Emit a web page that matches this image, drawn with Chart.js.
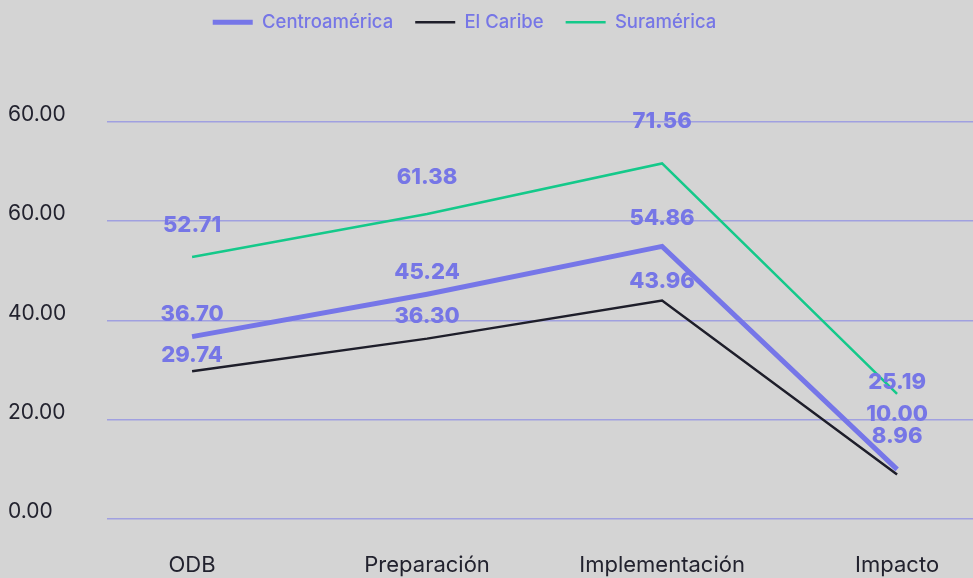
<!DOCTYPE html>
<html>
<head>
<meta charset="utf-8">
<script src="https://cdn.jsdelivr.net/npm/chart.js@4"></script>
<style>
  html, body { margin: 0; padding: 0; background: #d4d4d4; }
  #wrap { width: 973px; height: 578px; }
</style>
</head>
<body>
<div id="wrap"><canvas id="chart"></canvas></div>
<script>
// categorias y series
const categories = ['ODB', 'Preparación', 'Implementación', 'Impacto'];
const centroamerica = [36.70, 45.24, 54.86, 10.00];
const elCaribe = [29.74, 36.30, 43.96, 8.96];
const suramerica = [52.71, 61.38, 71.56, 25.19];
const yTickValues = [0, 20, 40, 60, 80];
const yTickLabels = ['0.00', '20.00', '40.00', '60.00', '60.00'];

const PURPLE = '#7676e6';
const DARK = '#22222e';

function toPoints(values) {
  return values.map((v, i) => ({ x: i, y: v }));
}

// etiquetas de valores encima de cada punto
const valueLabels = {
  id: 'valueLabels',
  afterDatasetsDraw(chart, args, opts) {
    const ctx = chart.ctx;
    ctx.save();
    ctx.font = '800 22px Inter';
    ctx.fillStyle = PURPLE;
    ctx.textAlign = 'center';
    ctx.textBaseline = 'middle';
    chart.data.datasets.forEach((ds, di) => {
      const meta = chart.getDatasetMeta(di);
      const offs = opts.offsets[di];
      meta.data.forEach((pt, i) => {
        ctx.fillText(ds.data[i].y.toFixed(2), pt.x, pt.y - offs[i]);
      });
    });
    ctx.restore();
  }
};

// leyenda: más espacio debajo y un poco desplazada
const legendSpace = {
  id: 'legendSpace',
  beforeInit(chart, args, opts) {
    const lg = chart.legend;
    const fit = lg.fit;
    lg.fit = function () {
      fit.call(this);
      this.height += opts.extra;
    };
    const draw = lg.draw;
    lg.draw = function () {
      const ctx = this.ctx;
      ctx.save();
      ctx.translate(opts.dx, opts.dy);
      draw.call(this);
      ctx.restore();
    };
  }
};

new Chart(document.getElementById('chart'), {
  type: 'line',
  data: {
    datasets: [
      { label: 'Centroamérica', data: toPoints(centroamerica), borderColor: '#7676e8', backgroundColor: '#7676e8', borderWidth: 5, pointRadius: 0, tension: 0 },
      { label: 'El Caribe', data: toPoints(elCaribe), borderColor: '#1e1e2a', backgroundColor: '#1e1e2a', borderWidth: 2.5, pointRadius: 0, tension: 0 },
      { label: 'Suramérica', data: toPoints(suramerica), borderColor: '#14c98a', backgroundColor: '#14c98a', borderWidth: 2.5, pointRadius: 0, tension: 0 }
    ]
  },
  plugins: [valueLabels, legendSpace],
  options: {
    responsive: true,
    maintainAspectRatio: false,
    animation: false,
    layout: { padding: { left: 8, right: 0, top: 4, bottom: 0 } },
    plugins: {
      legend: {
        position: 'top',
        labels: {
          usePointStyle: true,
          pointStyle: 'line',
          pointStyleWidth: 40,
          boxHeight: 18,
          color: PURPLE,
          font: { family: 'Inter', size: 18.5, weight: 500 },
          padding: 22
        }
      },
      legendSpace: { extra: 67, dx: -26, dy: -13 },
      tooltip: { enabled: false },
      valueLabels: {
        offsets: [
          [22, 22, 28, 55],
          [16, 22, 19, 38],
          [32, 37, 42, 11]
        ]
      }
    },
    scales: {
      x: {
        type: 'linear',
        min: -0.362,
        max: 3.323,
        afterBuildTicks: s => { s.ticks = categories.map((c, i) => ({ value: i })); },
        afterFit: s => { s.height = 59; },
        grid: { display: false },
        border: { display: false },
        ticks: {
          color: DARK,
          font: { family: 'Inter', size: 22 },
          padding: 25,
          maxRotation: 0,
          callback: v => categories[v]
        }
      },
      y: {
        min: 0,
        max: 80,
        afterBuildTicks: s => { s.ticks = yTickValues.map(v => ({ value: v })); },
        afterFit: s => { s.width = 99; },
        grid: { color: '#a0a0e0', lineWidth: 1.5, drawTicks: false },
        border: { display: false },
        ticks: {
          color: DARK,
          font: { family: 'Inter', size: 21 },
          crossAlign: 'far',
          labelOffset: -7,
          callback: (v, i) => yTickLabels[i]
        }
      }
    }
  }
});
</script>
</body>
</html>
